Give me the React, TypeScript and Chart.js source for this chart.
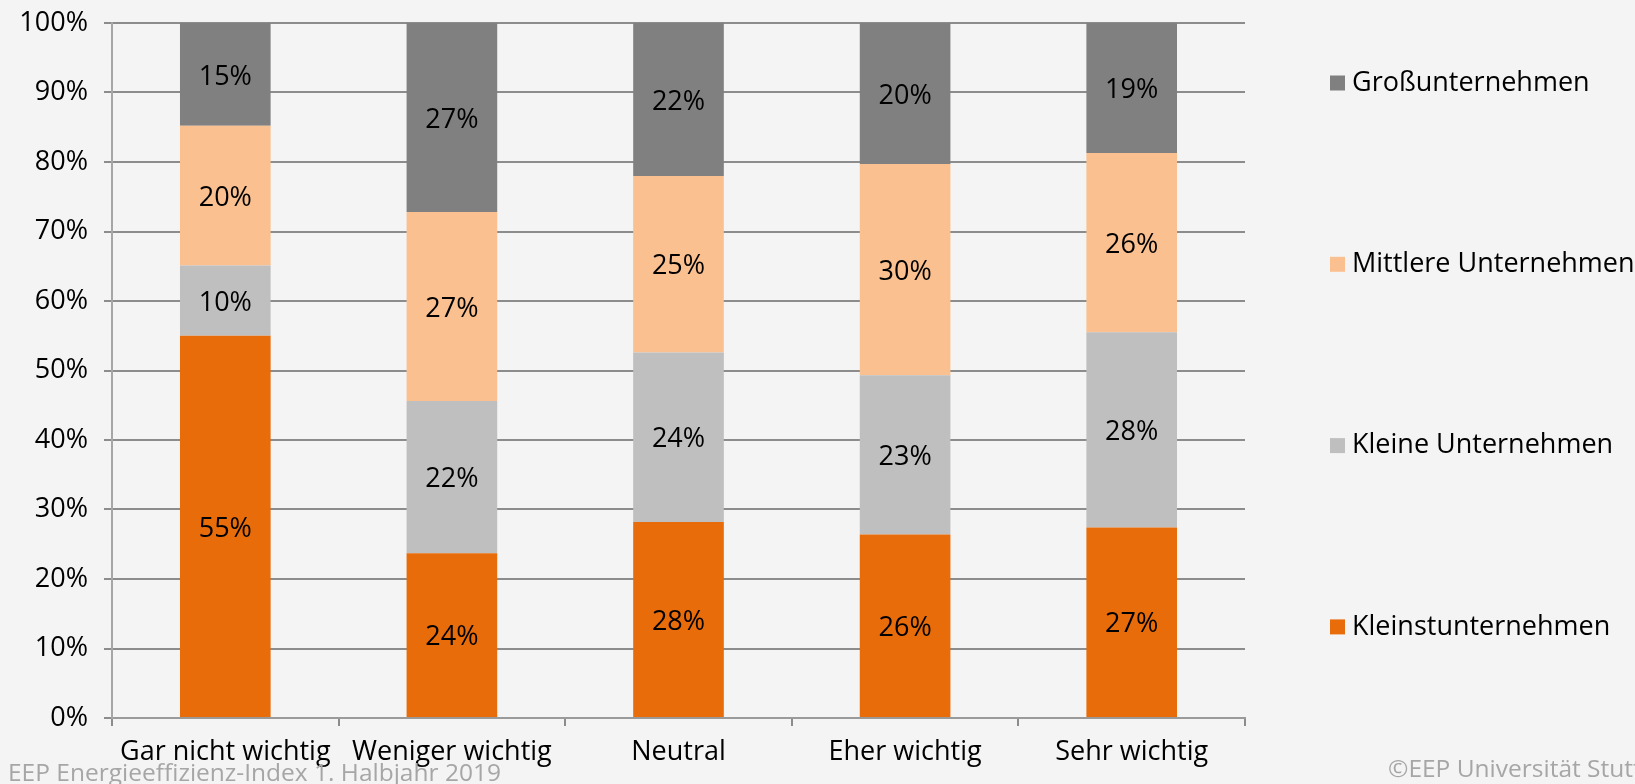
import React, { useEffect, useRef } from "react";
import { Chart, registerables } from "chart.js";

Chart.register(...registerables);

// ---- data ----
const categories = ["Gar nicht wichtig", "Weniger wichtig", "Neutral", "Eher wichtig", "Sehr wichtig"];
const kleinstunternehmen = [55.0, 23.7, 28.2, 26.4, 27.4];
const kleineUnternehmen = [10.1, 21.9, 24.4, 22.9, 28.1];
const mittlereUnternehmen = [20.1, 27.2, 25.4, 30.4, 25.8];
const grossunternehmen = [14.8, 27.2, 22.0, 20.3, 18.7];
const seriesNames = ["Kleinstunternehmen", "Kleine Unternehmen", "Mittlere Unternehmen", "Großunternehmen"];
const seriesValues = [kleinstunternehmen, kleineUnternehmen, mittlereUnternehmen, grossunternehmen];
const seriesColors = ["#E96C0B", "#BFBFBF", "#FAC090", "#808080"];
const yMin = 0;
const yMax = 100;
const yStep = 10;
const footerLeft = "EEP Energieeffizienz-Index 1. Halbjahr 2019";
const footerRight = "©EEP Universität Stuttgart";

// ---- style ----
const BG = "#F4F4F4";
const FONT = '"Open Sans", "Noto Sans", sans-serif';
const FS = 27;
const FOOT_FS = 24.5;

const bgPlugin = {
  id: "bg",
  beforeDraw(chart: any) {
    const ctx = chart.ctx;
    ctx.save();
    ctx.fillStyle = BG;
    ctx.fillRect(0, 0, chart.width, chart.height);
    ctx.restore();
  },
};

const labelPlugin = {
  id: "segLabels",
  afterDatasetsDraw(chart: any) {
    const ctx = chart.ctx;
    ctx.save();
    ctx.font = `${FS}px ${FONT}`;
    ctx.fillStyle = "#000";
    ctx.textAlign = "center";
    ctx.textBaseline = "middle";
    chart.data.datasets.forEach((ds: any, di: number) => {
      const meta = chart.getDatasetMeta(di);
      meta.data.forEach((el: any, i: number) => {
        const v = ds.data[i];
        const y = (el.y + el.base) / 2 + 2.5;
        ctx.fillText(`${Math.round(v)}%`, el.x, y);
      });
    });
    ctx.restore();
  },
};

const legendPlugin = {
  id: "sideLegend",
  afterDraw(chart: any) {
    const ctx = chart.ctx;
    ctx.save();
    ctx.font = `${FS}px ${FONT}`;
    ctx.textBaseline = "middle";
    ctx.textAlign = "left";
    const ds = chart.data.datasets.slice().reverse();
    ds.forEach((d: any, i: number) => {
      const cy = 83 + i * 181.3;
      ctx.fillStyle = d.backgroundColor;
      ctx.fillRect(1330, cy - 7.5, 15, 15);
      ctx.fillStyle = "#000";
      ctx.fillText(d.label, 1352, cy);
    });
    ctx.restore();
  },
};

const footerPlugin = {
  id: "footer",
  afterDraw(chart: any) {
    const ctx = chart.ctx;
    ctx.save();
    ctx.font = `${FOOT_FS}px ${FONT}`;
    ctx.fillStyle = "#A6A6A6";
    ctx.textBaseline = "alphabetic";
    ctx.textAlign = "left";
    ctx.fillText(footerLeft, 8, 781);
    ctx.fillText(footerRight, 1388, 777);
    ctx.restore();
  },
};

export default function App() {
  const ref = useRef<HTMLCanvasElement>(null);
  useEffect(() => {
    let chart: Chart | null = null;
    let cancelled = false;
    document.body.style.margin = "0";
    document.body.style.background = BG;
    const make = () => {
      if (cancelled || !ref.current) return;
      Chart.defaults.font.family = FONT;
      Chart.defaults.font.size = FS;
      Chart.defaults.color = "#000";
      chart = new Chart(ref.current, {
        type: "bar",
        data: {
          labels: categories,
          datasets: seriesNames.map((name, i) => ({
            label: name,
            data: seriesValues[i],
            backgroundColor: seriesColors[i],
            borderWidth: 0,
            barPercentage: 0.4,
            categoryPercentage: 1.0,
          })),
        },
        options: {
          animation: false,
          responsive: true,
          maintainAspectRatio: false,
          events: [],
          layout: { padding: { left: 0, top: 23, right: 390, bottom: 0 } },
          plugins: {
            legend: { display: false },
            tooltip: { enabled: false },
            title: { display: false },
          },
          scales: {
            x: {
              stacked: true,
              offset: true,
              afterFit: (s: any) => {
                s.height = 66;
                s.paddingLeft = 0;
                s.paddingRight = 0;
              },
              grid: {
                display: true,
                drawOnChartArea: false,
                drawTicks: true,
                tickLength: 8,
                offset: true,
                color: "#8C8C8C",
                lineWidth: 2,
              },
              border: { display: true, color: "#9A9A9A", width: 2 },
              ticks: {
                color: "#000",
                font: { size: FS, family: FONT },
                padding: 10,
                maxRotation: 0,
                autoSkip: false,
              },
            },
            y: {
              stacked: true,
              min: yMin,
              max: yMax,
              afterFit: (s: any) => {
                s.width = 112;
                s.paddingTop = 0;
                s.paddingBottom = 0;
              },
              grid: {
                display: true,
                drawTicks: true,
                tickLength: 8,
                color: "#8C8C8C",
                lineWidth: 2,
              },
              border: { display: true, color: "#A6A6A6", width: 2 },
              ticks: {
                stepSize: yStep,
                color: "#000",
                font: { size: FS, family: FONT },
                padding: 16,
                callback: (v: any) => `${v}%`,
              },
            },
          },
        },
        plugins: [bgPlugin, labelPlugin, legendPlugin, footerPlugin],
      });
    };
    if ((document as any).fonts && (document as any).fonts.load) {
      (document as any).fonts.load(`${FS}px "Open Sans"`).then(make, make);
    } else {
      make();
    }
    return () => {
      cancelled = true;
      if (chart) chart.destroy();
    };
  }, []);
  return (
    <div style={{ position: "fixed", left: 0, top: 0, width: 1635, height: 784, background: BG }}>
      <canvas ref={ref} />
    </div>
  );
}
